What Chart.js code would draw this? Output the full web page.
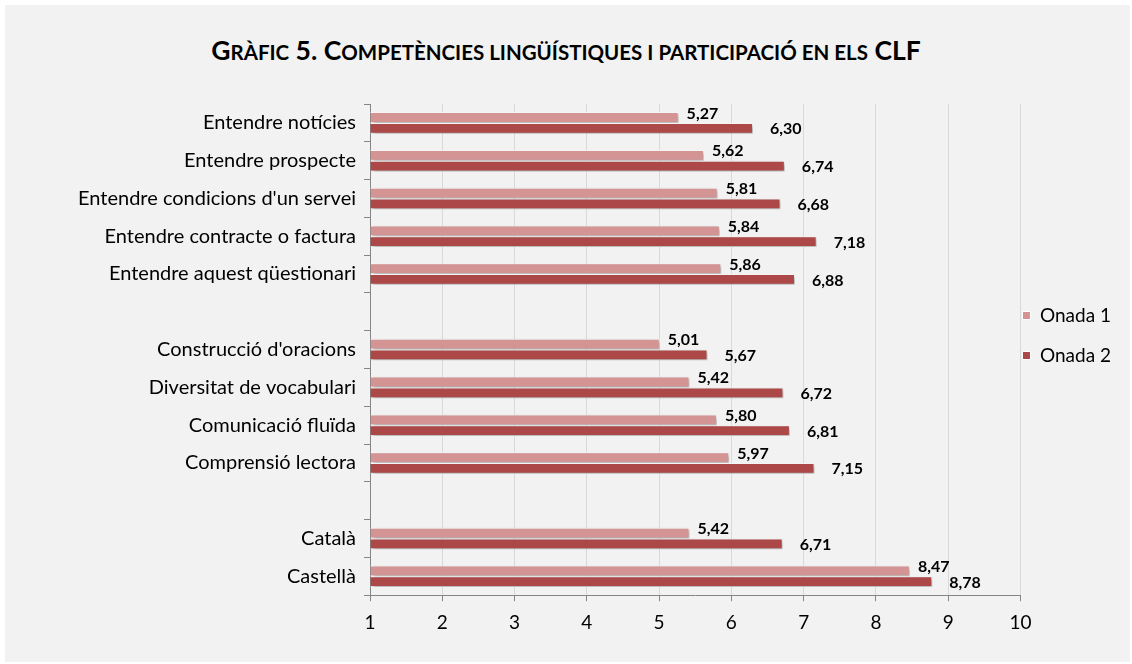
<!DOCTYPE html>
<html>
<head>
<meta charset="utf-8">
<script src="https://cdn.jsdelivr.net/npm/chart.js@4.4.1/dist/chart.umd.min.js"></script>
<style>
  html, body { margin: 0; padding: 0; background: #ffffff; }
  #wrap { position: relative; width: 1132px; height: 664px; overflow: hidden; }
  #panel { position: absolute; left: 5px; top: 5px; right: 2px; bottom: 2px; background: #f2f2f2; }
  #titol {
    position: absolute; left: 0; right: 0; top: 34px; text-align: center;
    font-family: Lato, "Open Sans", sans-serif; font-weight: bold; font-size: 26.5px;
    color: #000; white-space: nowrap;
  }
  #titol .p { text-transform: uppercase; font-size: 20.5px; }
  canvas { position: absolute; left: 0; top: 0; }
</style>
</head>
<body>
<div id="wrap">
  <div id="panel"></div>
  <div id="titol">G<span class="p">ràfic</span> 5. C<span class="p">ompetències lingüístiques i participació en els</span> CLF</div>
  <canvas id="grafic" width="1132" height="664"></canvas>
</div>
<script>
// dades llegides del gràfic (categories buides = separadors)
const categories = [
  'Entendre notícies',
  'Entendre prospecte',
  "Entendre condicions d'un servei",
  'Entendre contracte o factura',
  'Entendre aquest qüestionari',
  '',
  "Construcció d'oracions",
  'Diversitat de vocabulari',
  'Comunicació fluïda',
  'Comprensió lectora',
  '',
  'Català',
  'Castellà'
];
const onada1 = [5.27, 5.62, 5.81, 5.84, 5.86, null, 5.01, 5.42, 5.80, 5.97, null, 5.42, 8.47];
const onada2 = [6.30, 6.74, 6.68, 7.18, 6.88, null, 5.67, 6.72, 6.81, 7.15, null, 6.71, 8.78];
const xTicks = [1, 2, 3, 4, 5, 6, 7, 8, 9, 10];

const FONT = 'Lato, "Open Sans", sans-serif';

// ombra sota les barres
const ombra = {
  id: 'ombra',
  beforeDatasetDraw(chart) {
    const ctx = chart.ctx;
    ctx.save();
    ctx.shadowColor = 'rgba(0,0,0,0.35)';
    ctx.shadowBlur = 4;
    ctx.shadowOffsetX = 2;
    ctx.shadowOffsetY = 2;
  },
  afterDatasetDraw(chart) {
    chart.ctx.restore();
  }
};

// etiquetes amb el valor (coma decimal)
const etiquetes = {
  id: 'etiquetes',
  afterDatasetsDraw(chart) {
    const ctx = chart.ctx;
    ctx.save();
    ctx.font = 'bold 16px ' + FONT;
    ctx.fillStyle = '#000';
    ctx.textAlign = 'left';
    ctx.textBaseline = 'middle';
    chart.data.datasets.forEach((ds, i) => {
      const meta = chart.getDatasetMeta(i);
      meta.data.forEach((bar, j) => {
        const v = ds.data[j];
        if (v == null) return;
        const dx = i === 0 ? 8 : 17;
        const dy = i === 0 ? -4 : 1;
        ctx.fillText(v.toFixed(2).replace('.', ','), bar.x + dx, bar.y + dy);
      });
    });
    ctx.restore();
  }
};

// llegenda: una mica per sobre del centre i més a l'esquerra
const llegendaPos = {
  id: 'llegendaPos',
  afterLayout(chart) {
    const lg = chart.legend;
    if (!lg) return;
    lg.top = 285;
    lg.left -= 19;
    lg.right -= 19;
  }
};

new Chart(document.getElementById('grafic'), {
  type: 'bar',
  data: {
    labels: categories,
    datasets: [
      {
        label: 'Onada 1',
        data: onada1,
        base: 1,
        backgroundColor: '#d49494',
        borderColor: '#ffffff',
        borderWidth: 1,
        categoryPercentage: 0.57,
        barPercentage: 1.0
      },
      {
        label: 'Onada 2',
        data: onada2,
        base: 1,
        backgroundColor: '#ad4848',
        borderColor: '#ffffff',
        borderWidth: 1,
        categoryPercentage: 0.57,
        barPercentage: 1.0
      }
    ]
  },
  options: {
    indexAxis: 'y',
    responsive: false,
    animation: false,
    layout: { padding: { top: 104, left: 0, right: -8, bottom: 20 } },
    plugins: {
      legend: {
        position: 'right',
        align: 'start',
        labels: {
          font: { family: FONT, size: 19 },
          color: '#000',
          boxWidth: 8,
          boxHeight: 8,
          padding: 21
        }
      },
      tooltip: { enabled: false },
      title: { display: false }
    },
    scales: {
      x: {
        type: 'linear',
        min: 1,
        max: 10,
        afterBuildTicks(scale) {
          scale.ticks = xTicks.map(v => ({ value: v }));
        },
        ticks: {
          font: { family: FONT, size: 19 },
          color: '#000',
          padding: 10
        },
        grid: {
          color: '#d9d9d9',
          tickColor: '#868686',
          tickLength: 6
        },
        border: { color: '#868686' }
      },
      y: {
        afterFit(scale) { scale.width = 370; },
        ticks: {
          font: { family: FONT, size: 20 },
          color: '#000',
          padding: 8
        },
        grid: {
          drawOnChartArea: false,
          tickColor: '#868686',
          tickLength: 6,
          offset: true
        },
        border: { color: '#868686' }
      }
    }
  },
  plugins: [ombra, etiquetes, llegendaPos]
});
</script>
</body>
</html>
